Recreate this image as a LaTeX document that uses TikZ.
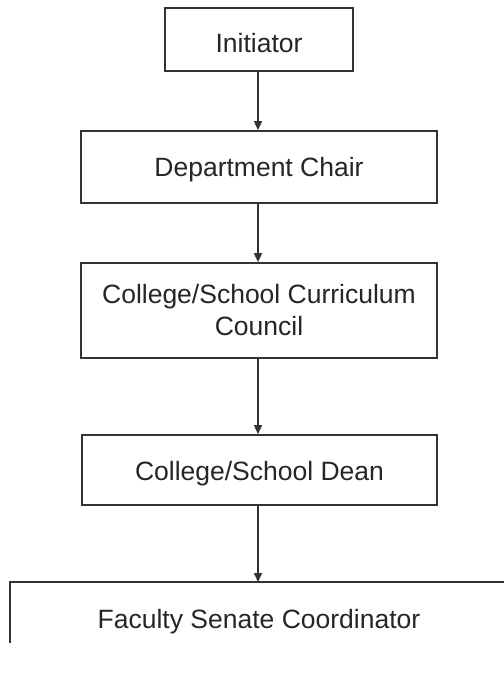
\documentclass[tikz,border=0pt]{standalone}
\usepackage{fontspec}
\setmainfont{Liberation Sans}
\usetikzlibrary{arrows.meta}
\definecolor{linec}{HTML}{333333}
\definecolor{textc}{HTML}{262626}
\begin{document}
\begin{tikzpicture}[x=1pt,y=-1pt,
  box/.style={draw=linec, line width=1.7pt, fill=white, inner sep=0pt},
  lbl/.style={font=\fontsize{26.5}{32}\selectfont, text=textc, align=center},
  conn/.style={draw=linec, line width=1.6pt, -{Triangle[length=9pt,width=8pt]}}]
\useasboundingbox (0,0) rectangle (504,681);
\node[box, lbl, minimum width=188pt, minimum height=63pt, text height=25.5pt, text depth=0pt] (init) at (259,39.5) {Initiator};
\node[box, lbl, minimum width=356pt, minimum height=72pt, text height=24pt, text depth=5.5pt] (chair) at (259,167) {Department Chair};
\node[box, lbl, minimum width=356pt, minimum height=95pt] (council) at (259,310.5) {College/School Curriculum\\Council};
\node[box, lbl, minimum width=355pt, minimum height=70pt, text height=25.5pt, text depth=5.5pt] (dean) at (259.5,470) {College/School Dean};
\node[lbl, text height=25.5pt, text depth=5.5pt] (fac) at (259,618) {Faculty Senate Coordinator};
\coordinate (factop) at (258,582);
\draw[draw=linec, line width=1.7pt] (10,643) -- (10,582) -- (504,582);
\draw[conn] (init.south -| 258,0) -- (chair.north -| 258,0);
\draw[conn] (chair.south -| 258,0) -- (council.north -| 258,0);
\draw[conn] (council.south -| 258,0) -- (dean.north -| 258,0);
\draw[conn] (dean.south -| 258,0) -- (factop);
\end{tikzpicture}
\end{document}
